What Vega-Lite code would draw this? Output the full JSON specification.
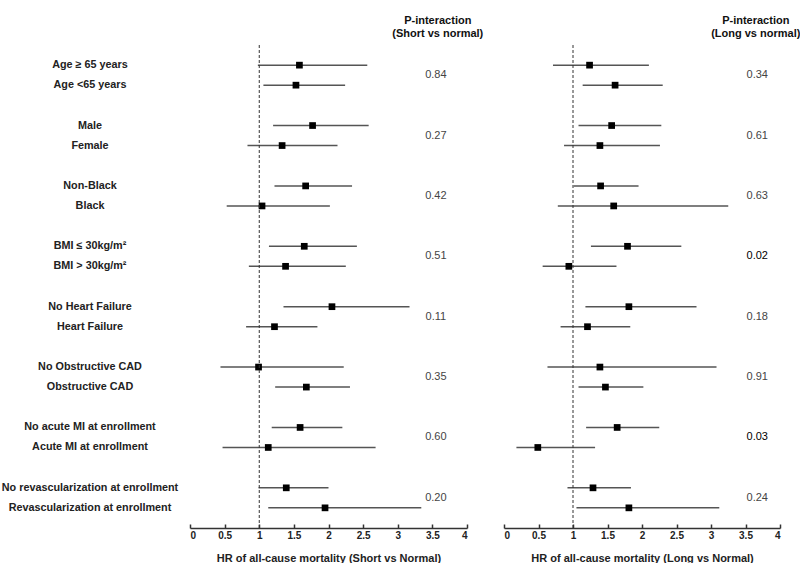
{
  "$schema": "https://vega.github.io/schema/vega-lite/v6.json",
  "padding": {"left": 0, "top": 14, "right": 0, "bottom": 0},
  "autosize": {"type": "pad"},
  "config": {
    "view": {"stroke": null},
    "font": "Liberation Sans",
    "axis": {"grid": false, "labelOverlap": false},
    "axisX": {"labelOverlap": false, "tickCount": 10, "labelFontWeight": "bold", "labelFontSize": 10, "labelColor": "#222", "tickSize": -4, "labelPadding": 6,
              "domainColor": "#333", "tickColor": "#333", "domainWidth": 1.5, "tickWidth": 1.5,
              "titleFontSize": 11, "titleFontWeight": "bold", "titleColor": "#222", "titlePadding": 12}
  },
  "datasets": {
    "rows": [
      {"label": "Age ≥ 65 years", "group": "age", "level": 1, "s_hr": 1.58, "s_lo": 0.98, "s_hi": 2.56, "l_hr": 1.24, "l_lo": 0.71, "l_hi": 2.10},
      {"label": "Age <65 years", "group": "age", "level": 2, "s_hr": 1.53, "s_lo": 1.06, "s_hi": 2.24, "l_hr": 1.61, "l_lo": 1.14, "l_hi": 2.30},
      {"label": "Male", "group": "sex", "level": 1, "s_hr": 1.77, "s_lo": 1.20, "s_hi": 2.58, "l_hr": 1.56, "l_lo": 1.08, "l_hi": 2.28},
      {"label": "Female", "group": "sex", "level": 2, "s_hr": 1.33, "s_lo": 0.83, "s_hi": 2.13, "l_hr": 1.39, "l_lo": 0.87, "l_hi": 2.26},
      {"label": "Non-Black", "group": "race", "level": 1, "s_hr": 1.67, "s_lo": 1.22, "s_hi": 2.34, "l_hr": 1.40, "l_lo": 1.01, "l_hi": 1.95},
      {"label": "Black", "group": "race", "level": 2, "s_hr": 1.04, "s_lo": 0.53, "s_hi": 2.02, "l_hr": 1.59, "l_lo": 0.78, "l_hi": 3.25},
      {"label": "BMI ≤ 30kg/m²", "group": "bmi", "level": 1, "s_hr": 1.65, "s_lo": 1.14, "s_hi": 2.41, "l_hr": 1.79, "l_lo": 1.26, "l_hi": 2.57},
      {"label": "BMI > 30kg/m²", "group": "bmi", "level": 2, "s_hr": 1.38, "s_lo": 0.85, "s_hi": 2.25, "l_hr": 0.94, "l_lo": 0.56, "l_hi": 1.63},
      {"label": "No Heart Failure", "group": "hf", "level": 1, "s_hr": 2.05, "s_lo": 1.35, "s_hi": 3.17, "l_hr": 1.81, "l_lo": 1.18, "l_hi": 2.79},
      {"label": "Heart Failure", "group": "hf", "level": 2, "s_hr": 1.22, "s_lo": 0.81, "s_hi": 1.84, "l_hr": 1.21, "l_lo": 0.82, "l_hi": 1.83},
      {"label": "No Obstructive CAD", "group": "cad", "level": 1, "s_hr": 0.99, "s_lo": 0.44, "s_hi": 2.22, "l_hr": 1.39, "l_lo": 0.63, "l_hi": 3.08},
      {"label": "Obstructive CAD", "group": "cad", "level": 2, "s_hr": 1.68, "s_lo": 1.23, "s_hi": 2.31, "l_hr": 1.47, "l_lo": 1.08, "l_hi": 2.02},
      {"label": "No acute MI at enrollment", "group": "mi", "level": 1, "s_hr": 1.59, "s_lo": 1.18, "s_hi": 2.20, "l_hr": 1.64, "l_lo": 1.19, "l_hi": 2.25},
      {"label": "Acute MI at enrollment", "group": "mi", "level": 2, "s_hr": 1.13, "s_lo": 0.47, "s_hi": 2.68, "l_hr": 0.49, "l_lo": 0.18, "l_hi": 1.32},
      {"label": "No revascularization at enrollment", "group": "revasc", "level": 1, "s_hr": 1.39, "s_lo": 0.99, "s_hi": 2.00, "l_hr": 1.29, "l_lo": 0.92, "l_hi": 1.84},
      {"label": "Revascularization at enrollment", "group": "revasc", "level": 2, "s_hr": 1.95, "s_lo": 1.13, "s_hi": 3.34, "l_hr": 1.81, "l_lo": 1.05, "l_hi": 3.12}
    ],
    "pvals": [
      {"group": "age", "p_short": 0.84, "p_long": 0.34},
      {"group": "sex", "p_short": 0.27, "p_long": 0.61},
      {"group": "race", "p_short": 0.42, "p_long": 0.63},
      {"group": "bmi", "p_short": 0.51, "p_long": 0.02},
      {"group": "hf", "p_short": 0.11, "p_long": 0.18},
      {"group": "cad", "p_short": 0.35, "p_long": 0.91},
      {"group": "mi", "p_short": 0.60, "p_long": 0.03},
      {"group": "revasc", "p_short": 0.20, "p_long": 0.24}
    ]
  },
  "spacing": 0,
  "bounds": "flush",
  "resolve": {"scale": {"x": "independent", "y": "independent", "yOffset": "independent"}},
  "hconcat": [
    {
      "width": 190,
      "height": 483,
      "data": {"name": "rows"},
      "mark": {"type": "text", "fontSize": 10.8, "fontWeight": "bold", "color": "#222", "dx": -5},
      "encoding": {
        "y": {"field": "group", "type": "nominal", "axis": null,
              "scale": {"type": "band", "domain": ["age", "sex", "race", "bmi", "hf", "cad", "mi", "revasc"], "paddingInner": 0.337, "paddingOuter": 0.168}},
        "yOffset": {"field": "level", "type": "ordinal", "scale": {"type": "band", "domain": [1, 2], "paddingInner": 0, "paddingOuter": 0}},
        "text": {"field": "label"}
      }
    },
    {
      "width": 277,
      "height": 483,
      "title": {"text": ["P-interaction", "(Short vs normal)"], "anchor": "end", "align": "center", "dx": -30, "fontSize": 11, "fontWeight": "bold", "lineHeight": 13, "offset": 6, "color": "#111"},
      "layer": [
        {
          "data": {"name": "rows"},
          "mark": {"type": "rule", "color": "#555", "strokeWidth": 1.5},
          "encoding": {
            "x": {"field": "s_lo", "type": "quantitative",
                  "scale": {"domain": [0, 4], "nice": false, "zero": false},
                  "axis": {"values": [0, 0.5, 1, 1.5, 2, 2.5, 3, 3.5, 4], "tickCount": 10, "labelOverlap": false, "labelExpr": "datum.value % 1 == 0 ? format(datum.value, 'd') : format(datum.value, '.1f')", "title": "HR of all-cause mortality (Short vs Normal)"}},
            "x2": {"field": "s_hi"},
            "y": {"field": "group", "type": "nominal", "axis": null,
                  "scale": {"type": "band", "domain": ["age", "sex", "race", "bmi", "hf", "cad", "mi", "revasc"], "paddingInner": 0.337, "paddingOuter": 0.168}},
            "yOffset": {"field": "level", "type": "ordinal", "scale": {"type": "band", "domain": [1, 2], "paddingInner": 0, "paddingOuter": 0}}
          }
        },
        {
          "data": {"name": "rows"},
          "mark": {"type": "point", "shape": "square", "filled": true, "color": "#000", "size": 45, "opacity": 1},
          "encoding": {
            "x": {"field": "s_hr", "type": "quantitative"},
            "y": {"field": "group", "type": "nominal"},
            "yOffset": {"field": "level", "type": "ordinal"}
          }
        },
        {
          "data": {"values": [{"ref": 1}]},
          "mark": {"type": "rule", "color": "#333", "strokeWidth": 1, "strokeDash": [3, 2]},
          "encoding": {"x": {"field": "ref", "type": "quantitative"}}
        },
        {
          "data": {"name": "pvals"},
          "mark": {"type": "text", "fontSize": 11},
          "encoding": {
            "x": {"datum": 3.55},
            "y": {"field": "group", "type": "nominal"},
            "text": {"field": "p_short", "format": ".2f"},
            "fontWeight": {"condition": {"test": "datum.p_short < 0.05", "value": "bold"}, "value": "normal"},
            "color": {"condition": {"test": "datum.p_short < 0.05", "value": "#000"}, "value": "#444"}
          }
        }
      ]
    },
    {
      "width": 37,
      "height": 483,
      "data": {"values": []},
      "mark": {"type": "rule"},
      "encoding": {}
    },
    {
      "width": 276,
      "height": 483,
      "title": {"text": ["P-interaction", "(Long vs normal)"], "anchor": "end", "align": "center", "dx": -25, "fontSize": 11, "fontWeight": "bold", "lineHeight": 13, "offset": 6, "color": "#111"},
      "layer": [
        {
          "data": {"name": "rows"},
          "mark": {"type": "rule", "color": "#555", "strokeWidth": 1.5},
          "encoding": {
            "x": {"field": "l_lo", "type": "quantitative",
                  "scale": {"domain": [0, 4], "nice": false, "zero": false},
                  "axis": {"values": [0, 0.5, 1, 1.5, 2, 2.5, 3, 3.5, 4], "tickCount": 10, "labelOverlap": false, "labelExpr": "datum.value % 1 == 0 ? format(datum.value, 'd') : format(datum.value, '.1f')", "title": "HR of all-cause mortality (Long vs Normal)"}},
            "x2": {"field": "l_hi"},
            "y": {"field": "group", "type": "nominal", "axis": null,
                  "scale": {"type": "band", "domain": ["age", "sex", "race", "bmi", "hf", "cad", "mi", "revasc"], "paddingInner": 0.337, "paddingOuter": 0.168}},
            "yOffset": {"field": "level", "type": "ordinal", "scale": {"type": "band", "domain": [1, 2], "paddingInner": 0, "paddingOuter": 0}}
          }
        },
        {
          "data": {"name": "rows"},
          "mark": {"type": "point", "shape": "square", "filled": true, "color": "#000", "size": 45, "opacity": 1},
          "encoding": {
            "x": {"field": "l_hr", "type": "quantitative"},
            "y": {"field": "group", "type": "nominal"},
            "yOffset": {"field": "level", "type": "ordinal"}
          }
        },
        {
          "data": {"values": [{"ref": 1}]},
          "mark": {"type": "rule", "color": "#333", "strokeWidth": 1, "strokeDash": [3, 2]},
          "encoding": {"x": {"field": "ref", "type": "quantitative"}}
        },
        {
          "data": {"name": "pvals"},
          "mark": {"type": "text", "fontSize": 11},
          "encoding": {
            "x": {"datum": 3.67},
            "y": {"field": "group", "type": "nominal"},
            "text": {"field": "p_long", "format": ".2f"},
            "fontWeight": {"condition": {"test": "datum.p_long < 0.05", "value": "bold"}, "value": "normal"},
            "color": {"condition": {"test": "datum.p_long < 0.05", "value": "#000"}, "value": "#444"}
          }
        }
      ]
    }
  ]
}
